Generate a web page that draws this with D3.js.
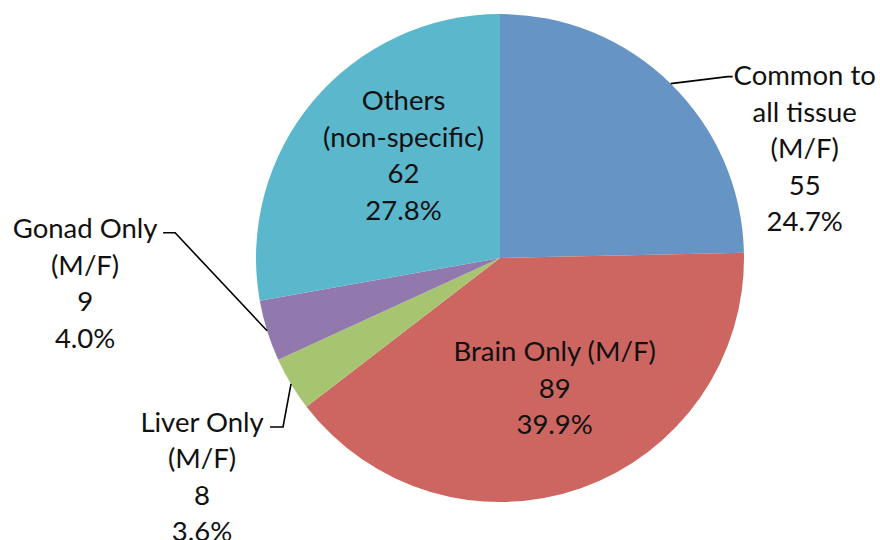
<!DOCTYPE html>
<html><head><meta charset="utf-8">
<script src="https://cdn.jsdelivr.net/npm/d3@7/dist/d3.min.js"></script>
<style>body{margin:0;background:#fff}svg{display:block}</style>
</head><body>
<svg id="chart" width="880" height="540"></svg>
<script>
const categories = ["Common to all tissue (M/F)", "Brain Only (M/F)", "Liver Only (M/F)", "Gonad Only (M/F)", "Others (non-specific)"];
const labelLines = [["Common to", "all tissue", "(M/F)"], ["Brain Only (M/F)"], ["Liver Only", "(M/F)"], ["Gonad Only", "(M/F)"], ["Others", "(non-specific)"]];
const values = [55, 89, 8, 9, 62];
const percents = ["24.7%", "39.9%", "3.6%", "4.0%", "27.8%"];
const colors = ["#6594C5", "#CD6561", "#A7C470", "#9179AD", "#5BB7CC"];

const svg = d3.select("#chart");
const cx = 500, cy = 258, r = 244;
const fontSize = 27.5, lineH = 36.5;
const g = svg.append("g").attr("transform", `translate(${cx},${cy})`);

const pie = d3.pie().sort(null).value(d => d.v);
const data = pie(values.map((v, i) => ({v, i})));
const arc = d3.arc().innerRadius(0).outerRadius(r);

g.selectAll("path.slice").data(data).join("path")
  .attr("class", "slice")
  .attr("d", arc)
  .attr("fill", d => colors[d.data.i]);

const layout = [
  {type: "out", elbow: [57, -7], end: [62, -7], anchorDx: 134, firstDy: -8},
  {type: "in", rad: 141, da: -0.06},
  {type: "out", elbow: [-8, 43], end: [-21, 43], anchorDx: -89, firstDy: 38},
  {type: "out", elbow: [-92, -98], end: [-104, -98], anchorDx: -182, firstDy: -102},
  {type: "in", rad: 141, da: 0.12}
];

const font = "Lato, 'Open Sans', sans-serif";
data.forEach(d => {
  const i = d.data.i, L = layout[i];
  const lines = labelLines[i].concat([String(values[i]), percents[i]]);
  const mid = (d.startAngle + d.endAngle) / 2;
  let tx, ty;
  if (L.type === "in") {
    const a = mid + L.da;
    tx = L.rad * Math.sin(a);
    ty = -L.rad * Math.cos(a);
    ty -= (lines.length - 1) * lineH / 2;
  } else {
    const ex = r * Math.sin(mid), ey = -r * Math.cos(mid);
    g.append("polyline")
      .attr("points", [[ex, ey], [ex + L.elbow[0], ey + L.elbow[1]], [ex + L.end[0], ey + L.end[1]]].map(p => p.join(",")).join(" "))
      .attr("fill", "none").attr("stroke", "#000").attr("stroke-width", 1.6);
    tx = ex + L.anchorDx;
    ty = ey + L.firstDy;
  }
  const t = g.append("text")
    .attr("font-family", font).attr("font-size", fontSize)
    .attr("fill", "#111").attr("text-anchor", "middle");
  lines.forEach((ln, k) => {
    t.append("tspan").attr("x", tx).attr("y", ty + k * lineH).attr("dy", "0.35em").text(ln);
  });
});
</script>
</body></html>
